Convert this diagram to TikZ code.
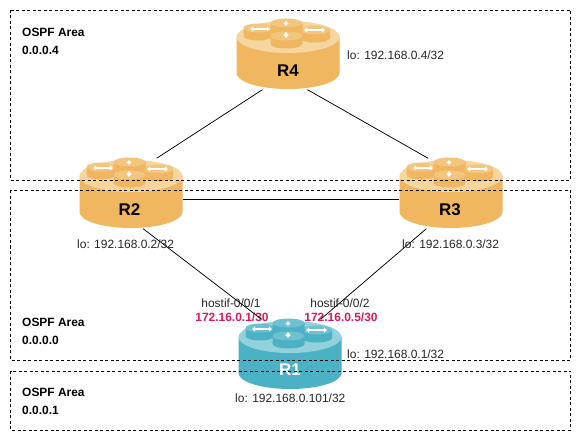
\documentclass[tikz,border=0pt]{standalone}
\usepackage{fontspec}
\setmainfont{Liberation Sans}
\definecolor{obody}{HTML}{F0B660}
\definecolor{otop}{HTML}{F6D69F}
\definecolor{odisc}{HTML}{F3C680}
\definecolor{tbody}{HTML}{4BB2C6}
\definecolor{ttop}{HTML}{93D1DD}
\definecolor{tdisc}{HTML}{6FC1D1}
\definecolor{lblred}{HTML}{D81B60}
\usetikzlibrary{arrows.meta}
\tikzset{
 x=1bp,y=-1bp,
 area/.style={draw=black,line width=0.7pt,dash pattern=on 3bp off 2.5bp,fill=none},
 lbl/.style={font=\fontsize{12}{14}\selectfont,text=black!85,inner sep=0pt,anchor=west},
 arealbl/.style={font=\fontsize{12}{18}\selectfont\bfseries,text=black,inner sep=0pt,anchor=north west,align=left},
 iplbl/.style={font=\fontsize{12}{14}\selectfont\bfseries,text=lblred,inner sep=0pt},
 iflbl/.style={font=\fontsize{12}{14}\selectfont,text=black!85,inner sep=0pt},
 link/.style={draw=black,line width=0.75pt},
 routerbox/.style={rectangle,draw=none,fill=none,minimum width=103bp,minimum height=70bp,inner sep=0pt},
 rname/.style={font=\fontsize{17}{20}\selectfont\bfseries},
 whitearrow/.style={draw=white,line width=2.6pt,{Latex[length=3bp,width=6bp]}-{Latex[length=3bp,width=6bp]}},
}
\newcommand{\routerdisc}[5]{% x y rx body top
  \fill[#4] (#1-#3,#2) -- (#1-#3,#2+8) arc[x radius=#3,y radius=4.5,start angle=180,end angle=0] -- (#1+#3,#2) -- cycle;
  \fill[#5] (#1,#2) ellipse[x radius=#3,y radius=4.5];
}
\newcommand{\routershape}[5]{% cx cy body top disc
  \fill[#3] (#1-51.5,#2-15) -- (#1-51.5,#2+21) arc[x radius=51.5,y radius=16,start angle=180,end angle=0] -- (#1+51.5,#2-15) -- cycle;
  \fill[#4] (#1,#2-15) ellipse[x radius=51.5,y radius=16];
  \routerdisc{#1-30}{#2-24}{14.5}{#3}{#5}
  \routerdisc{#1+27}{#2-22}{15}{#3}{#5}
  \draw[whitearrow] (#1-38,#2-23) -- (#1-18,#2-23);
  \draw[whitearrow] (#1+16,#2-22) -- (#1+37,#2-22);
  \routerdisc{#1-1.5}{#2-29}{16}{#3}{#5}
  \draw[whitearrow] (#1-2,#2-31) -- (#1-2,#2-26);
  \routerdisc{#1-1.5}{#2-16}{16}{#3}{#5}
  \draw[whitearrow] (#1-2,#2-20) -- (#1-2,#2-14);
}
\begin{document}
\begin{tikzpicture}
\useasboundingbox (0,0) rectangle (581,441);
\fill[white] (0,0) rectangle (581,441);
\node[iflbl] (if1) at (231,303) {hostif-0/0/1};
\node[iplbl] (ip1) at (232,317) {172.16.0.1/30};
\node[iflbl] (if2) at (340,303) {hostif-0/0/2};
\node[iplbl] (ip2) at (341,317) {172.16.0.5/30};
\node[routerbox] (R4) at (288,54.5) {};
\node[routerbox] (R2) at (131,193.5) {};
\node[routerbox] (R3) at (451,193.5) {};
\node[routerbox] (R1) at (290,354.5) {};
\draw[link] (R4.234.5) -- (R2.54);
\draw[link] (R4.299.7) -- (R3.123.3);
\draw[link] (R2.354) -- (R3.186);
\draw[link] (R2.289) -- (R1.129.6);
\draw[link] (R3.235.6) -- (R1.49.4);
\routershape{288}{52}{obody}{otop}{odisc}
\routershape{131}{191}{obody}{otop}{odisc}
\routershape{451}{191}{obody}{otop}{odisc}
\routershape{290}{352}{tbody}{ttop}{tdisc}
\node[rname] (nR4) at (288,71) {R4};
\node[rname] (nR2) at (129.5,210) {R2};
\node[rname] (nR3) at (450,210) {R3};
\node[rname,text=white] (nR1) at (290,370) {R1};
\draw[area] (10.5,10) rectangle (570.5,180.5);
\draw[area] (10.5,190.5) rectangle (570.5,360);
\draw[area] (10.5,371) rectangle (570.5,430);
\node[arealbl] (a4) at (22,28) {OSPF Area\\0.0.0.4};
\node[arealbl] (a0) at (22,318) {OSPF Area\\0.0.0.0};
\node[arealbl] (a1) at (22,388) {OSPF Area\\0.0.0.1};
\node[lbl] (l4) at (347,55) {lo: 192.168.0.4/32};
\node[lbl] (l2) at (77,244.5) {lo: 192.168.0.2/32};
\node[lbl] (l3) at (402,244.5) {lo: 192.168.0.3/32};
\node[lbl] (l1) at (347,354) {lo: 192.168.0.1/32};
\node[lbl] (l101) at (235,398) {lo: 192.168.0.101/32};
\end{tikzpicture}
\end{document}
